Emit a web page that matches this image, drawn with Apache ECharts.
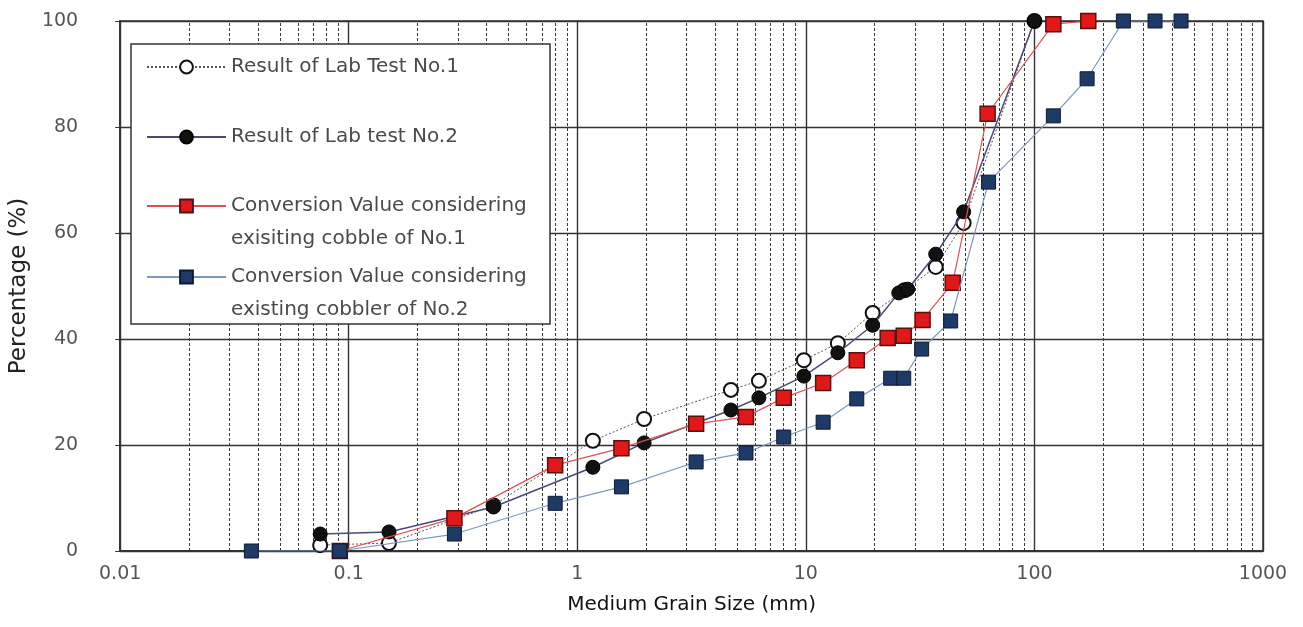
<!DOCTYPE html>
<html>
<head>
<meta charset="utf-8">
<script src="https://cdn.jsdelivr.net/npm/echarts@6/dist/echarts.min.js"></script>
<style>
  html, body { margin: 0; padding: 0; background: #fff; }
  #chart { width: 1303px; height: 627px; }
</style>
</head>
<body>
<div id="chart"></div>
<script>
// Grain-size distribution curves (sieve size in mm vs. percentage passing)
const seriesNames = [
  'Result of Lab Test No.1',
  'Result of Lab test No.2',
  'Conversion Value considering\nexisiting cobble of No.1',
  'Conversion Value considering\nexisting cobbler of No.2'
];

const lab1Size = [0.075, 0.15, 0.43, 1.17, 1.96, 4.7, 6.23, 9.8, 13.8, 19.6, 27, 37, 49, 100];
const lab1Pct  = [1.1, 1.5, 8.6, 20.8, 24.9, 30.4, 32.1, 36.0, 39.2, 44.9, 49.2, 53.6, 61.9, 100];

const lab2Size = [0.075, 0.15, 0.43, 1.17, 1.96, 4.7, 6.23, 9.8, 13.8, 19.6, 25.5, 27.9, 37, 49, 100];
const lab2Pct  = [3.2, 3.6, 8.3, 15.8, 20.4, 26.6, 28.9, 33.0, 37.4, 42.6, 48.7, 49.4, 56.0, 64.0, 100];

const conv1Size = [0.0914, 0.29, 0.80, 1.56, 3.31, 5.47, 8.0, 11.9, 16.7, 22.8, 26.8, 32.4, 43.9, 62.4, 121, 172];
const conv1Pct  = [0, 6.2, 16.2, 19.4, 24.0, 25.3, 28.9, 31.7, 36.0, 40.2, 40.6, 43.6, 50.6, 82.5, 99.4, 100];

const conv2Size = [0.0375, 0.0914, 0.29, 0.80, 1.56, 3.31, 5.47, 8.0, 11.9, 16.7, 23.5, 26.8, 32.1, 43, 63, 121, 170, 245, 337, 438];
const conv2Pct  = [0, 0, 3.2, 9.0, 12.1, 16.8, 18.5, 21.5, 24.3, 28.7, 32.6, 32.6, 38.1, 43.4, 69.6, 82.1, 89.1, 100, 100, 100];

// axis ticks
const xTickLabels = ['0.01', '0.1', '1', '10', '100', '1000'];
const xMinorValues = [];
[0.01, 0.1, 1, 10, 100].forEach(function (d) {
  for (let k = 2; k <= 9; k++) xMinorValues.push(+(d * k).toPrecision(3));
});

const pairs = (xs, ys) => xs.map((x, i) => [x, ys[i]]);

const fontFamily = '"DejaVu Sans", sans-serif';

const chart = echarts.init(document.getElementById('chart'), null, { renderer: 'canvas' });

const legendCommon = {
  left: 146,
  orient: 'vertical',
  padding: 0,
  itemWidth: 79,
  itemHeight: 16,
  selectedMode: false,
  textStyle: { fontFamily: fontFamily, fontSize: 20, color: '#4a4a4a', lineHeight: 33 }
};

chart.setOption({
  animation: false,
  grid: {
    left: 118, right: 40, top: 21, bottom: 76,
    show: true, borderColor: '#333', borderWidth: 1.5, backgroundColor: '#fff'
  },
  xAxis: {
    type: 'log',
    logBase: 10,
    min: 0.01,
    max: 1000,
    name: 'Medium Grain Size (mm)',
    nameLocation: 'middle',
    nameGap: 44,
    nameTextStyle: { fontFamily: fontFamily, fontSize: 20, color: '#111' },
    axisLine: { show: true, onZero: false, lineStyle: { color: '#333', width: 2 } },
    axisTick: { show: true, inside: true, length: 6, lineStyle: { color: '#333' } },
    axisLabel: {
      margin: 14,
      fontFamily: fontFamily,
      fontSize: 19,
      color: '#555',
      formatter: function (v) {
        const e = Math.round(Math.log10(v)) + 2;
        return xTickLabels[e] !== undefined ? xTickLabels[e] : '';
      }
    },
    splitLine: { show: true, lineStyle: { color: '#333', width: 1.4 } }
  },
  yAxis: {
    type: 'value',
    min: 0,
    max: 100,
    interval: 20,
    name: 'Percentage (%)',
    nameLocation: 'middle',
    nameGap: 82,
    nameTextStyle: { fontFamily: fontFamily, fontSize: 23, color: '#222' },
    axisLine: { show: true, lineStyle: { color: '#333', width: 2 } },
    axisTick: { show: true, inside: false, length: 5, lineStyle: { color: '#333' } },
    axisLabel: { margin: 42, fontFamily: fontFamily, fontSize: 19, color: '#555' },
    splitLine: { show: true, lineStyle: { color: '#333', width: 1.4 } }
  },
  legend: [
    Object.assign({}, legendCommon, { top: 50.5, data: [seriesNames[0]] }),
    Object.assign({}, legendCommon, { top: 120.5, data: [seriesNames[1]] }),
    Object.assign({}, legendCommon, {
      top: 156.5, data: [seriesNames[2]],
      formatter: function (n) { return '\n' + n; }
    }),
    Object.assign({}, legendCommon, {
      top: 227.5, data: [seriesNames[3]],
      formatter: function (n) { return '\n' + n; }
    })
  ],
  graphic: [{
    type: 'rect',
    z: 3,
    silent: true,
    shape: { x: 131, y: 44, width: 419, height: 280 },
    style: { fill: '#fff', stroke: '#333', lineWidth: 1.5 }
  }],
  series: [
    {
      // minor log grid lines
      type: 'line',
      data: [],
      z: 1,
      silent: true,
      markLine: {
        silent: true,
        symbol: 'none',
        z: 1,
        label: { show: false },
        lineStyle: { color: '#3a3a3a', width: 1, type: [3, 2] },
        emphasis: { disabled: true },
        data: xMinorValues.map(v => ({ xAxis: v }))
      }
    },
    {
      name: seriesNames[0],
      type: 'line',
      data: pairs(lab1Size, lab1Pct),
      symbol: 'circle',
      symbolSize: 14,
      z: 3,
      itemStyle: { color: '#fff', borderColor: '#111', borderWidth: 2 },
      lineStyle: { color: '#555', width: 1, type: [2, 2] },
      emphasis: { disabled: true }
    },
    {
      name: seriesNames[1],
      type: 'line',
      data: pairs(lab2Size, lab2Pct),
      symbol: 'circle',
      symbolSize: 14,
      z: 4,
      itemStyle: { color: '#111', borderColor: '#000', borderWidth: 1 },
      lineStyle: { color: '#4a4a78', width: 1.5 },
      emphasis: { disabled: true }
    },
    {
      name: seriesNames[2],
      type: 'line',
      data: pairs(conv1Size, conv1Pct),
      symbol: 'rect',
      symbolSize: 15,
      z: 5,
      itemStyle: { color: '#e01818', borderColor: '#5a1010', borderWidth: 1.5 },
      lineStyle: { color: '#e05050', width: 1.2 },
      emphasis: { disabled: true }
    },
    {
      name: seriesNames[3],
      type: 'line',
      data: pairs(conv2Size, conv2Pct),
      symbol: 'rect',
      symbolSize: 14,
      z: 6,
      itemStyle: { color: '#1e3a66', borderColor: '#0d1a33', borderWidth: 1 },
      lineStyle: { color: '#7d98c0', width: 1.2 },
      emphasis: { disabled: true }
    }
  ]
});
</script>
</body>
</html>
